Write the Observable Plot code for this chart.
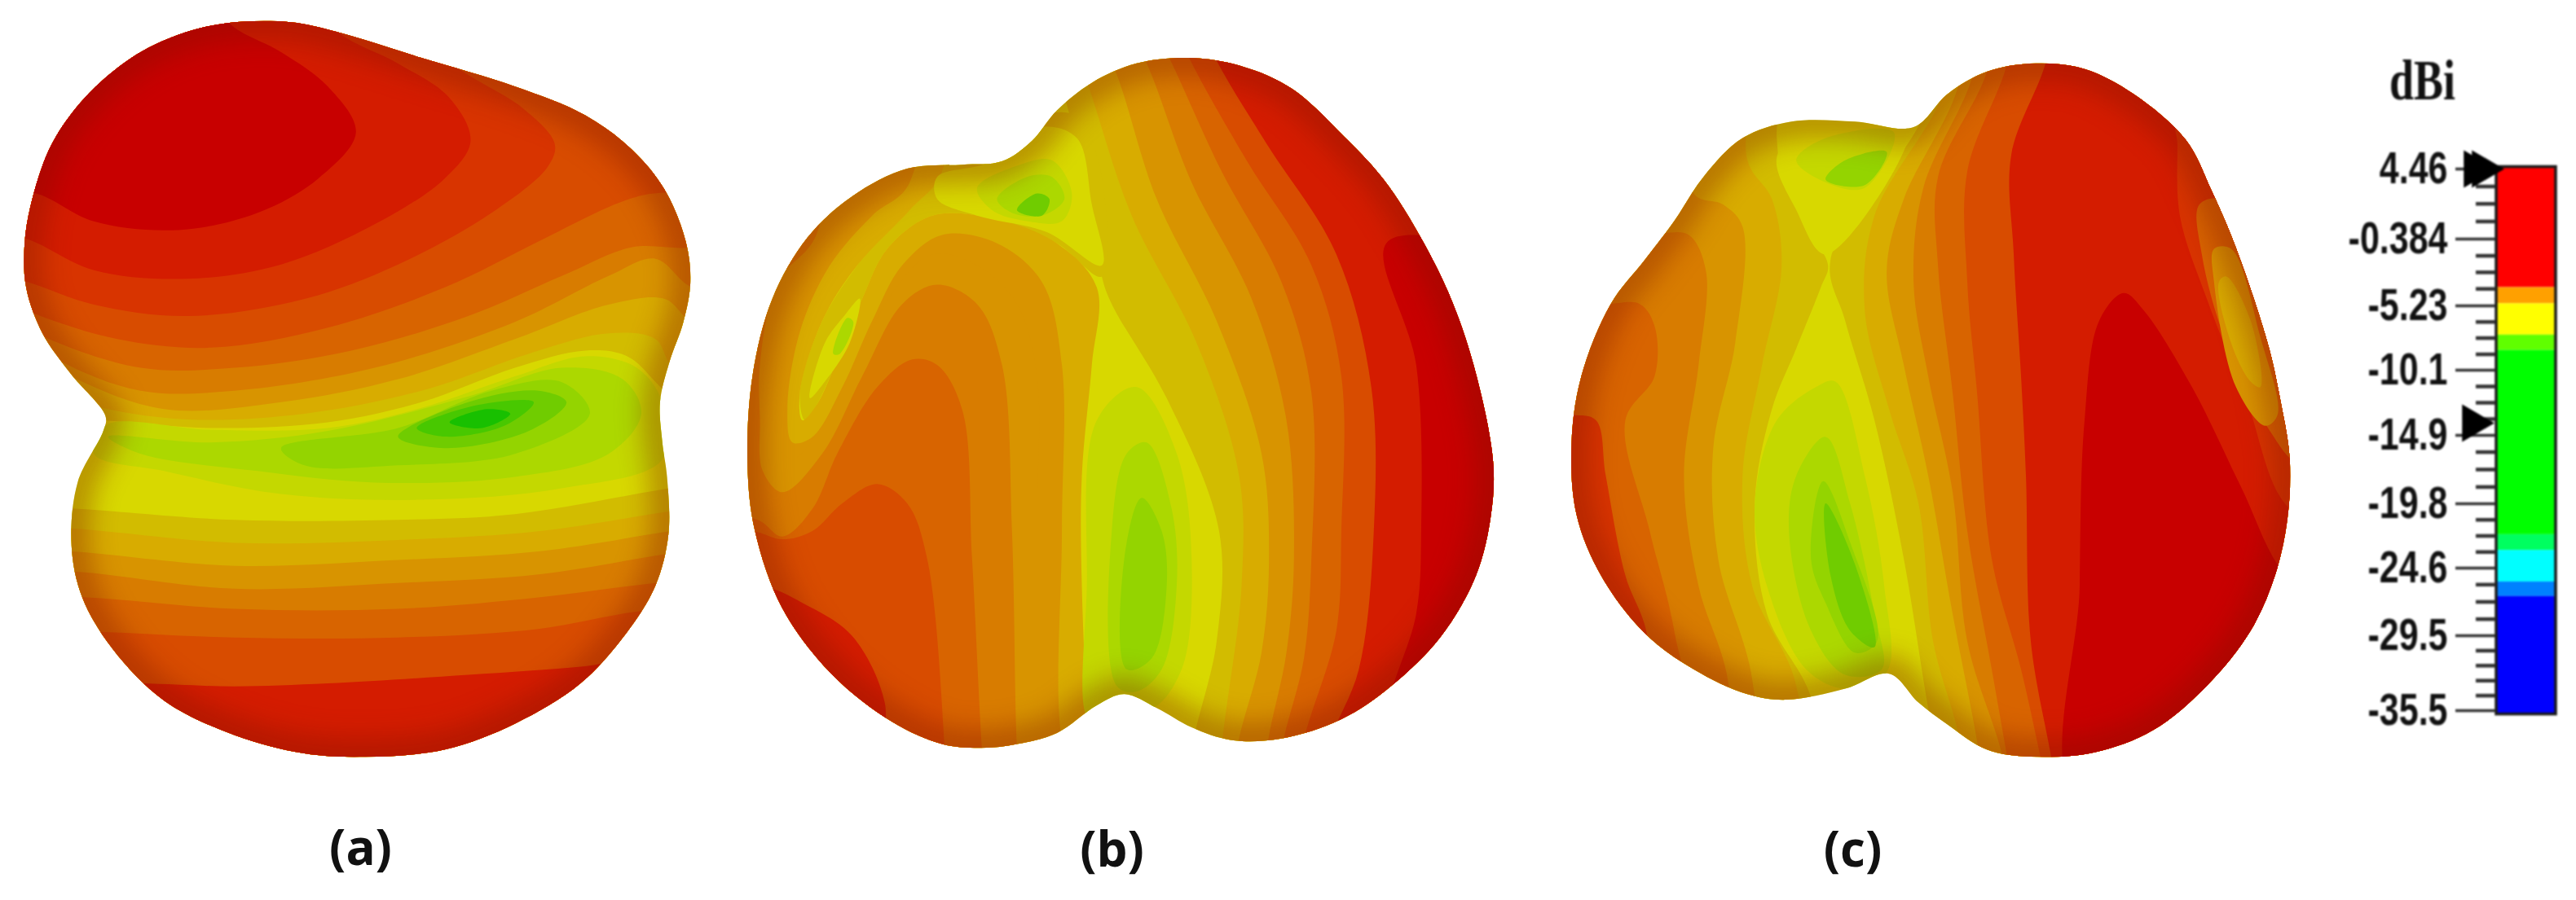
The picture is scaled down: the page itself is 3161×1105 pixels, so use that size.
<!DOCTYPE html>
<html>
<head>
<meta charset="utf-8">
<script src="https://cdn.jsdelivr.net/npm/d3@7"></script>
<script src="https://cdn.jsdelivr.net/npm/@observablehq/plot@0.6"></script>
<style>
html,body{margin:0;padding:0;background:#fff;overflow:hidden}
#root{display:flex;width:3161px;height:1105px}
svg{display:block;flex:none}
</style>
</head>
<body>
<div id="root"></div>
<script>
// ---------- gain levels of the banded surface (level index -> colour) ----------
const levels = d3.range(16);
const levelColors = ["#c80000","#d41c00","#d83400","#d84c00","#d86400","#d87c00","#d89400","#d8ac00","#d2bc00","#d8d800","#c4d800","#acd800","#94d400","#70cc00","#48c800","#18c000"];

// ---------- panel (a) ----------
const outlineA = [[480,40],[620,38],[720,55],[900,100],[1100,150],[1250,200],[1350,260],[1420,330],[1465,420],[1475,490],[1460,560],[1430,630],[1410,700],[1415,770],[1425,830],[1428,930],[1400,1020],[1340,1100],[1240,1190],[1100,1260],[950,1305],[780,1318],[650,1312],[500,1280],[350,1220],[240,1130],[175,1040],[152,950],[165,840],[220,750],[225,725],[150,650],[90,580],[55,500],[52,420],[70,340],[110,250],[180,170],[280,100],[380,60]];
const T = [[1700,-100],[-100,-100]], B = [[1700,1700],[-100,1700]];
const bandsA = [
 [8,[[-50,720],[225,732],[450,745],[700,735],[900,700],[1100,640],[1250,610],[1340,620],[1420,680],[1600,800],...T]],
 [7,[[-50,640],[190,705],[400,730],[650,720],[900,680],[1150,610],[1300,580],[1400,590],[1440,640],[1600,660],...T]],
 [6,[[-50,560],[150,655],[350,712],[600,700],[850,660],[1100,590],[1300,530],[1420,520],[1480,560],[1600,560],...T]],
 [5,[[-50,530],[120,625],[300,680],[500,680],[800,640],[1100,560],[1300,480],[1400,450],[1480,500],[1600,500],...T]],
 [4,[[-50,520],[90,585],[300,640],[500,640],[750,610],[1000,550],[1200,480],[1350,430],[1480,430],[1600,400],...T]],
 [3,[[-50,500],[70,545],[250,590],[450,605],[700,570],[950,500],[1150,420],[1300,360],[1370,340],[1600,300],...T]],
 [2,[[-50,470],[55,490],[200,530],[400,550],[650,520],[850,460],[1050,370],[1170,290],[1185,250],[1120,190],[1000,130],[850,50],[700,-50],[-100,-100]]],
 [1,[[-50,400],[55,415],[200,470],[400,485],[600,460],[800,390],[950,310],[1005,245],[960,170],[850,110],[720,55],[600,-50],[-100,-100]]],
 [0,[[-50,300],[90,340],[200,385],[380,400],[550,370],[680,310],[760,230],[700,150],[600,90],[490,40],[420,-50],[-100,-100]]],
 [8,[[-50,880],[150,885],[500,905],[850,905],[1100,895],[1430,850],[1600,830],...B]],
 [7,[[-50,915],[150,920],[500,945],[850,940],[1150,925],[1430,890],[1600,870],...B]],
 [6,[[-50,955],[150,960],[500,985],[850,975],[1150,960],[1430,925],[1600,905],...B]],
 [5,[[-50,990],[160,995],[500,1025],[850,1015],[1150,1000],[1420,965],[1600,945],...B]],
 [4,[[-50,1035],[185,1040],[500,1060],[850,1060],[1150,1040],[1400,1015],[1600,1000],...B]],
 [3,[[-50,1095],[210,1100],[500,1110],[850,1110],[1150,1095],[1360,1065],[1600,1050],...B]],
 [1,[[-50,1185],[300,1190],[500,1195],[700,1190],[1000,1175],[1250,1160],[1600,1130],...B]],
 [10,[[225,740],[450,748],[700,745],[900,710],[1100,655],[1250,620],[1360,640],[1415,700],[1415,800],[1200,850],[900,870],[600,860],[350,820],[200,790]]],
 [11,[[230,760],[450,770],[700,750],[1000,690],[1200,640],[1330,660],[1370,720],[1300,790],[1100,830],[800,840],[550,820],[300,790]]],
 [12,[[600,780],[850,745],[1050,680],[1200,665],[1260,720],[1100,790],[850,810],[650,810]]],
 [13,[[850,760],[1000,700],[1150,680],[1210,700],[1130,750],[950,780]]],
 [14,[[890,745],[1020,705],[1140,700],[1080,740],[950,760]]],
 [15,[[960,735],[1040,712],[1090,720],[1030,745]]]
];

// ---------- panel (b) ----------
const outlineB = [[945,45],[1050,60],[1150,100],[1262,193],[1335,265],[1400,355],[1465,470],[1515,600],[1554,774],[1550,870],[1520,980],[1450,1090],[1350,1180],[1250,1240],[1130,1275],[1030,1278],[950,1255],[880,1220],[815,1195],[760,1215],[680,1265],[600,1285],[530,1292],[450,1285],[350,1245],[230,1160],[130,1040],[75,900],[60,780],[70,620],[110,480],[180,370],[270,295],[380,245],[490,238],[570,232],[630,195],[680,140],[750,90],[840,55]];
const R = [[1700,1400],[1700,-100]];
const bandsB = [
 [8,[[650,-50],[700,130],[745,280],[770,440],[790,490],[900,660],[1005,900],[1000,1100],[950,1300],[950,1400],...R]],
 [7,[[690,-50],[745,100],[830,330],[960,560],[1045,800],[1050,1000],[1010,1300],[1010,1400],...R]],
 [6,[[740,-50],[800,75],[880,300],[1000,520],[1090,760],[1105,950],[1090,1120],[1040,1300],[1040,1400],...R]],
 [5,[[800,-50],[860,55],[950,270],[1070,480],[1140,700],[1155,950],[1140,1120],[1100,1300],[1100,1400],...R]],
 [4,[[850,-50],[905,45],[1010,250],[1130,450],[1190,650],[1190,950],[1175,1130],[1130,1300],[1130,1400],...R]],
 [3,[[900,-50],[945,45],[1060,230],[1190,420],[1250,620],[1250,900],[1240,1080],[1170,1300],[1170,1400],...R]],
 [1,[[950,-50],[1000,50],[1100,200],[1240,400],[1310,640],[1315,900],[1285,1150],[1220,1300],[1220,1400],...R]],
 [0,[[1500,370],[1340,380],[1400,600],[1410,900],[1400,1050],[1340,1230],[1340,1400],[1700,1400],[1700,370]]],
 [8,[[175,700],[165,650],[210,520],[280,420],[385,300],[450,230],[720,150],[770,440],[680,380],[550,335],[430,330],[340,390],[290,480],[240,590],[200,670]]],
 [7,[[760,1400],[745,1280],[730,1000],[730,800],[750,600],[760,460],[680,380],[550,335],[430,330],[340,390],[290,480],[240,590],[200,670],[170,700],[165,650],[210,520],[280,420],[385,320],[450,250],[450,-100],[-100,-100],[-100,1400]]],
 [6,[[735,1400],[690,1280],[690,900],[690,600],[650,450],[560,380],[450,365],[370,420],[310,520],[250,640],[190,730],[150,740],[140,680],[165,540],[225,420],[310,330],[385,270],[385,-100],[-100,-100],[-100,1400]]],
 [6,[[690,1400],[650,1285],[640,900],[640,620],[600,490],[520,420],[430,400],[350,470],[280,590],[210,710],[150,770],[115,740],[110,660],[140,510],[200,400],[300,300],[300,-100],[-100,-100],[-100,1400]]],
 [5,[[610,1400],[600,1290],[590,900],[570,600],[520,490],[440,455],[370,490],[290,620],[210,760],[130,830],[90,790],[85,700],[85,600],[120,450],[200,360],[200,-100],[-100,-100],[-100,1400]]],
 [4,[[540,1400],[530,1295],[510,950],[490,680],[440,600],[390,590],[320,640],[240,760],[190,860],[130,910],[80,880],[-100,860],[-100,1400]]],
 [3,[[460,1400],[455,1290],[420,950],[380,850],[320,815],[250,850],[190,900],[130,915],[70,900],[-100,900],[-100,1400]]],
 [1,[[330,1300],[335,1210],[270,1090],[170,1030],[90,1000],[-100,1000],[-100,1400],[330,1400]]],
 [9,[[440,260],[540,235],[650,170],[720,190],[750,310],[770,420],[660,360],[520,330],[440,300]]],
 [10,[[520,280],[600,240],[670,230],[710,290],[690,340],[620,340],[550,320]]],
 [11,[[560,300],[620,260],[670,260],[695,300],[650,330],[590,325]]],
 [13,[[600,320],[640,290],[665,300],[650,330]]],
 [9,[[185,660],[215,560],[255,510],[285,480],[265,560],[215,630]]],
 [11,[[232,580],[260,515],[272,522],[245,580]]],
 [10,[[745,1240],[740,1000],[760,700],[840,640],[920,760],[950,950],[930,1150],[870,1220],[815,1195]]],
 [11,[[800,1180],[790,900],[820,760],[860,740],[910,860],[920,1000],[890,1150],[840,1190]]],
 [12,[[820,1150],[815,950],[850,840],[890,900],[900,1000],[870,1130]]]
];

// ---------- panel (c) ----------
const outlineC = [[1030,55],[1130,65],[1230,110],[1337,193],[1390,285],[1439,386],[1506,564],[1530,660],[1550,770],[1545,880],[1520,980],[1470,1080],[1380,1180],[1270,1260],[1150,1300],[1020,1308],[930,1295],[850,1250],[790,1210],[730,1158],[640,1185],[520,1205],[440,1195],[330,1150],[230,1085],[140,980],[90,870],[80,740],[100,620],[160,490],[230,410],[290,340],[350,260],[430,190],[530,160],[660,160],[780,170],[850,110],[930,70]];
const bandsC = [
 [8,[[850,-50],[800,150],[610,410],[640,520],[700,700],[760,950],[810,1220],[850,1400],...R]],
 [7,[[870,-50],[840,110],[700,330],[680,500],[730,680],[790,850],[820,1100],[870,1260],[900,1400],...R]],
 [6,[[890,-50],[870,100],[760,300],[725,430],[760,600],[810,800],[860,1050],[910,1280],[930,1400],...R]],
 [5,[[920,-50],[900,80],[800,280],[780,450],[810,620],[860,830],[890,1100],[960,1300],[980,1400],...R]],
 [4,[[950,-50],[930,70],[830,260],[830,420],[860,650],[890,900],[940,1150],[970,1300],[990,1400],...R]],
 [3,[[990,-50],[970,60],[890,250],[890,450],[910,650],[940,950],[1000,1150],[1040,1310],[1060,1400],...R]],
 [1,[[1070,-50],[1050,55],[980,220],[985,400],[1000,620],[1010,800],[1020,1100],[1060,1300],[1080,1400],...R]],
 [2,[[1320,150],[1320,200],[1325,330],[1380,480],[1460,660],[1550,860],[1700,900],[1700,150]]],
 [4,[[1365,310],[1370,400],[1420,560],[1510,720],[1570,780],[1700,780],[1600,400],[1420,300]]],
 [6,[[1395,390],[1395,450],[1440,640],[1500,710],[1525,690],[1490,550],[1430,390]]],
 [7,[[1405,450],[1430,560],[1470,630],[1490,640],[1470,520],[1420,440]]],
 [0,[[1120,1400],[1120,1000],[1130,700],[1160,520],[1210,470],[1250,500],[1350,640],[1450,820],[1540,980],[1700,1100],[1700,1400]]],
 [8,[[605,420],[560,350],[510,250],[500,190],[500,-100],[-100,-100],[-100,1400],[600,1400],[570,1200],[480,1050],[455,850],[490,680],[540,570],[590,460]]],
 [7,[[490,300],[510,420],[470,600],[430,800],[450,1000],[540,1180],[540,1400],[-100,1400],[-100,-100],[440,-100],[440,230]]],
 [6,[[430,350],[415,560],[370,750],[380,950],[450,1170],[450,1400],[-100,1400],[-100,-100],[310,-100],[330,290],[390,310]]],
 [5,[[355,430],[340,600],[310,800],[340,1000],[400,1170],[400,1400],[-100,1400],[-100,300],[250,360],[320,365]]],
 [4,[[250,530],[250,620],[190,700],[240,900],[290,1080],[330,1400],[-100,1400],[-100,500],[150,490],[220,490]]],
 [2,[[150,800],[130,700],[80,690],[-100,690],[-100,1400],[235,1400],[235,1090],[190,980]]],
 [9,[[500,225],[560,170],[700,165],[770,175],[600,400],[540,320]]],
 [10,[[540,230],[600,190],[740,180],[680,280],[600,270]]],
 [12,[[600,265],[640,230],[725,215],[680,275]]],
 [10,[[620,630],[680,800],[720,1000],[725,1155],[640,1185],[560,1150],[480,1000],[455,850],[500,700],[580,640]]],
 [11,[[600,730],[650,850],[700,1050],[715,1150],[640,1160],[570,1080],[525,900],[540,800]]],
 [12,[[595,810],[650,920],[705,1100],[660,1120],[600,1030],[570,950]]],
 [13,[[600,850],[660,960],[700,1110],[650,1080],[610,980]]]
];

// ---------- captions and colour bar ----------
const panelNames = ["(a)","(b)","(c)"];
const panelNameX = [442,1364,2273];
const panelNameY = [1042,1044,1044];

const barTicks = [4.46,-0.384,-5.23,-10.1,-14.9,-19.8,-24.6,-29.5,-35.5];
const barTickLabels = ["4.46","-0.384","-5.23","-10.1","-14.9","-19.8","-24.6","-29.5","-35.5"];
const barTickSlots = [207,293,375,454,534,618,697,780,872];
const barMinor = [3.25,2.05,0.83,-1.6,-2.8,-4.0,-6.45,-7.67,-8.9,-11.3,-12.5,-13.7,-16.1,-17.35,-18.6,-21,-22.2,-23.4,-25.8,-27.05,-28.3,-30.7,-31.9,-33.1,-34.3];
const barMarkers = [[3046,4.46],[3036,4.46],[3034,-14]];
const stopTop = [4.6,-3.9,-5.07,-7.44,-8.6,-22.1,-23.27,-25.6,-26.66];
const stopBottom = [-3.9,-5.07,-7.44,-8.6,-22.1,-23.27,-25.6,-26.66,-35.8];
const stopColors = ["#ff0000","#ffa000","#ffff00","#60ff00","#00ff00","#00ff60","#00ffff","#0080ff","#0000ff"];
const unitName = ["dBi"];

// ---------- build tables ----------
const panels = [
 {key:"a",ox:0,  oy:0, sx:1.742,sy:1.419,outline:outlineA,bands:bandsA},
 {key:"b",ox:880,oy:40,sx:1.633,sy:1.472,outline:outlineB,bands:bandsB},
 {key:"c",ox:1880,oy:40,sx:1.668,sy:1.472,outline:outlineC,bands:bandsC}
];
const toRows = (p,id,level,pts)=>pts.map(([x,y])=>({id,level,x:p.ox+x/p.sx,y:p.oy+y/p.sy}));

const marks = [];
for (const p of panels) {
  const out = toRows(p,"out",9,p.outline);
  marks.push(Plot.line(out,{x:"x",y:"y",z:"id",fill:"level",stroke:"none",curve:"catmull-rom-closed"}));
  const rows = p.bands.flatMap(([lv,pts],i)=>toRows(p,"b"+i,lv,pts));
  marks.push(Plot.line(rows,{x:"x",y:"y",z:"id",fill:"level",stroke:"none",curve:"catmull-rom-closed"}));
  marks.push(Plot.line(out,{x:"x",y:"y",z:"id",fill:"none",stroke:"#7a1000",strokeWidth:44,strokeOpacity:0.36,curve:"catmull-rom-closed"}));
}
marks.push(Plot.text(panelNames,{x:(d,i)=>panelNameX[i],y:(d,i)=>panelNameY[i],text:d=>d,fontSize:60,fontWeight:"bold",fontFamily:"Open Sans",fill:"#111"}));

const W = 2830;
const chart = Plot.plot({
  width:W,height:1105,margin:0,
  x:{domain:[0,W],range:[0,W],axis:null},
  y:{domain:[0,1105],range:[0,1105],axis:null},
  color:{type:"ordinal",domain:levels,range:levelColors},
  marks
});

// clip each surface's bands and shading to its outline (marks come in threes, in panel order)
const sel = d3.select(chart);
const groups = Array.from(chart.children).filter(n=>n.tagName.toLowerCase()==="g");
const defs = sel.append("defs");
panels.forEach((p,i)=>{
  const [gOut,gBands,gShade] = groups.slice(i*3,i*3+3).map(g=>d3.select(g));
  const d = gOut.select("path").attr("d");
  defs.append("clipPath").attr("id","clip-"+p.key).append("path").attr("d",d);
  gBands.attr("clip-path",`url(#clip-${p.key})`);
  gShade.attr("clip-path",`url(#clip-${p.key})`);
  gShade.selectAll("path").style("filter","blur(16px)");
});

// colour bar: dB values sit on the bar's unevenly spaced tick slots
const slot = d3.scaleLinear().domain(barTicks).range(barTickSlots);
const bar = Plot.plot({
  width:3161-W,height:1105,margin:0,
  style:{filter:"blur(0.9px)",background:"transparent"},
  x:{domain:[W,3161],range:[0,3161-W],axis:null},
  y:{domain:[0,1105],range:[0,1105],axis:null},
  marks:[
    Plot.rect(stopColors,{x1:3063,x2:3136,y1:(d,i)=>slot(stopTop[i]),y2:(d,i)=>slot(stopBottom[i]),fill:d=>d}),
    Plot.rect([0],{x1:3063,x2:3136,y1:()=>slot(stopTop[0]),y2:()=>slot(stopBottom[8]),fill:"none",stroke:"#1a1a1a",strokeWidth:3.5}),
    Plot.ruleY(barMinor,{y:d=>slot(d),x1:3038,x2:3062,stroke:"#333",strokeWidth:4.5}),
    Plot.ruleY(barTicks,{y:d=>slot(d),x1:3013,x2:3062,stroke:"#333",strokeWidth:3.5}),
    Plot.dot(barMarkers,{x:d=>d[0],y:d=>slot(d[1]),symbol:"triangle",rotate:90,r:17,fill:"#000",stroke:"none"}),
    Plot.text(barTickLabels,{x:3003,y:(d,i)=>slot(barTicks[i]),text:d=>d,textAnchor:"end",fontSize:43,fontWeight:"bold",fontFamily:"'Liberation Sans'",fill:"#111"}),
    Plot.text(unitName,{x:2972,y:()=>99,text:d=>d,fontSize:54,fontWeight:"bold",fontFamily:"'Liberation Serif'",fill:"#111"})
  ]
});
// the bar's lettering is tall and narrow in the reference
d3.select(bar).selectAll("text").each(function(){
  const t = this.getAttribute("transform");
  if (t) this.setAttribute("transform", t+" scale(1,1.3)");
});
document.getElementById("root").append(chart,bar);
</script>
</body>
</html>
